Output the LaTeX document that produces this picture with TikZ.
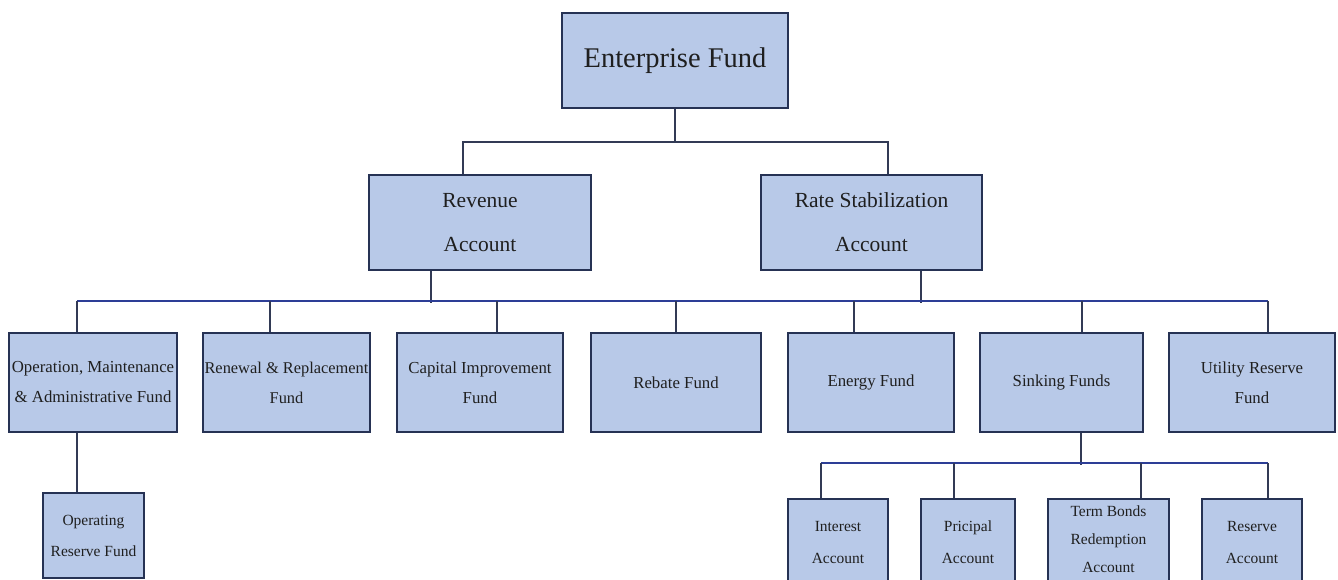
\documentclass[tikz,border=0pt]{standalone}
\usepackage{fontspec}
\setmainfont{Liberation Serif}
\definecolor{boxfill}{RGB}{184,201,232}
\definecolor{boxline}{RGB}{38,50,84}
\definecolor{connc}{RGB}{50,58,85}
\definecolor{busc}{RGB}{45,62,150}
\begin{document}
\begin{tikzpicture}[x=1pt,y=-1pt,
  fbox/.style={draw=boxline, line width=2pt, fill=boxfill, inner sep=0pt, align=center, text=black!88},
  lvlA/.style={fbox, font=\fontsize{28.5}{32}\selectfont},
  lvlB/.style={fbox, minimum height=95pt, font=\fontsize{21.5}{44}\selectfont},
  lvlC/.style={fbox, minimum height=99pt, font=\fontsize{16.8}{30}\selectfont},
  lvlD/.style={fbox, font=\fontsize{15.5}{32}\selectfont},
  connA/.style={draw=connc, line width=1.8pt},
  busA/.style={draw=busc, line width=1.8pt}]
\useasboundingbox[fill=white] (0,0) rectangle (1338,580);

% top
\node[lvlA, minimum width=226pt, minimum height=95pt] (ent) at (675,60.5) {\raisebox{-4pt}{Enterprise Fund}};
\node[lvlB, minimum width=222pt] (rev) at (480,222.5) {Revenue\\Account};
\node[lvlB, minimum width=221pt] (rate) at (871.5,222.5) {Rate Stabilization\\Account};

% middle row
\node[lvlC, minimum width=168pt] (oma) at (93,382.5) {Operation, Maintenance\\\& Administrative Fund};
\node[lvlC, minimum width=167pt, font=\fontsize{16.4}{30}\selectfont] (ren) at (286.5,382.5) {Renewal \& Replacement\\Fund};
\node[lvlC, minimum width=166pt] (cap) at (480,382.5) {Capital Improvement\\Fund};
\node[lvlC, minimum width=170pt] (reb) at (676,382.5) {Rebate Fund};
\node[lvlC, minimum width=166pt] (ene) at (871,382.5) {Energy Fund};
\node[lvlC, minimum width=163pt] (sink) at (1061.5,382.5) {Sinking Funds};
\node[lvlC, minimum width=166pt] (util) at (1252,382.5) {Utility Reserve\\Fund};

% bottom row
\node[lvlD, minimum width=101pt, minimum height=85pt, font=\fontsize{15.5}{31}\selectfont] (opr) at (93.5,535.5) {Operating\\Reserve Fund};
\node[lvlD, minimum width=100pt, minimum height=86pt] (int) at (838,542) {Interest\\Account};
\node[lvlD, minimum width=94pt, minimum height=86pt] (pri) at (968,542) {Pricipal\\Account};
\node[lvlD, minimum width=121pt, minimum height=86pt, font=\fontsize{15.5}{28}\selectfont] (term) at (1108.5,542) {\raisebox{0pt}[0pt][0pt]{\begin{tabular}{@{}c@{}}Term Bonds\\Redemption\\Account\end{tabular}}};
\node[lvlD, minimum width=100pt, minimum height=86pt] (res) at (1252,542) {Reserve\\Account};

% top connectors
\coordinate (tb) at (675,142);
\draw[connA] (ent.south) -- (tb);
\draw[connA] ([xshift=-17pt]rev.north) |- (tb) -| ([xshift=16.5pt]rate.north);

% row bus
\draw[connA] ([xshift=-49pt]rev.south) -- ++(0,32);
\draw[connA] ([xshift=49.5pt]rate.south) -- ++(0,32);
\draw[busA] ([xshift=-16pt,yshift=31pt]oma.north) -- ([xshift=16pt,yshift=31pt]util.north);
\draw[connA] ([xshift=-16pt]oma.north) -- ++(0,-31);
\draw[connA] ([xshift=-16.5pt]ren.north) -- ++(0,-31);
\draw[connA] ([xshift=17pt]cap.north) -- ++(0,-31);
\draw[connA] (reb.north) -- ++(0,-31);
\draw[connA] ([xshift=-17pt]ene.north) -- ++(0,-31);
\draw[connA] ([xshift=20.5pt]sink.north) -- ++(0,-31);
\draw[connA] ([xshift=16pt]util.north) -- ++(0,-31);

% operating reserve
\draw[connA] ([xshift=-16pt]oma.south) -- ([xshift=-16.5pt]opr.north);

% sinking bus
\draw[connA] ([xshift=19.5pt]sink.south) -- ++(0,32);
\draw[busA] ([xshift=-17pt,yshift=35pt]int.north) -- ([xshift=16pt,yshift=35pt]res.north);
\draw[connA] ([xshift=-17pt]int.north) -- ++(0,-35);
\draw[connA] ([xshift=-14pt]pri.north) -- ++(0,-35);
\draw[connA] ([xshift=32.5pt]term.north) -- ++(0,-35);
\draw[connA] ([xshift=16pt]res.north) -- ++(0,-35);
\end{tikzpicture}
\end{document}
